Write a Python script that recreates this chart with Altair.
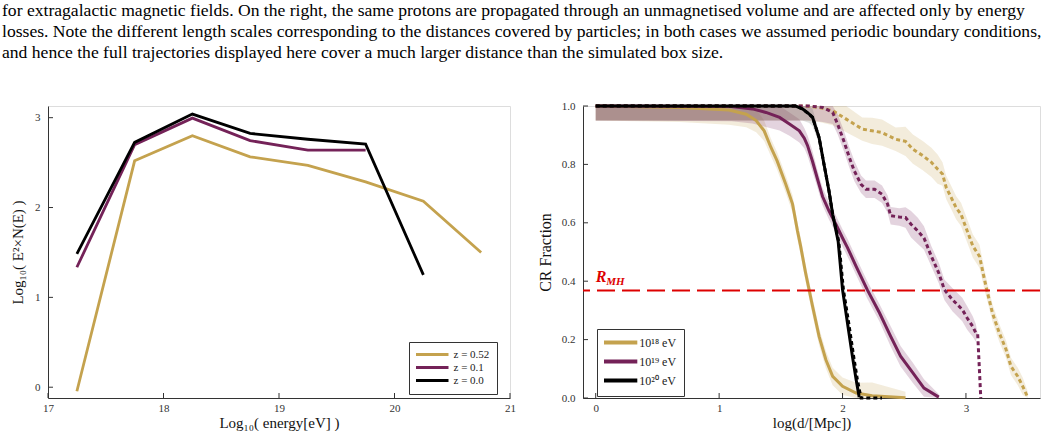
import altair as alt
import pandas as pd

CAPTION = [
    "for extragalactic magnetic fields. On the right, the same protons are propagated through an unmagnetised volume and are affected only by energy",
    "losses. Note the different length scales corresponding to the distances covered by particles; in both cases we assumed periodic boundary conditions,",
    "and hence the full trajectories displayed here cover a much larger distance than the simulated box size.",
]

# ---- left panel: E^2 N(E) spectra at three redshifts ----
LOG_E = [17.25, 17.75, 18.25, 18.75, 19.25, 19.75, 20.25, 20.75]
SPEC_Z052 = [-0.045, 2.52, 2.80, 2.565, 2.47, 2.285, 2.07, 1.50]
SPEC_Z01 = [1.335, 2.70, 2.995, 2.745, 2.64, 2.64]
SPEC_Z00 = [1.485, 2.725, 3.04, 2.825, 2.76, 2.705, 1.25]
Z_LABELS = ["z = 0.52", "z = 0.1", "z = 0.0"]
L_XTICKS = [17, 18, 19, 20, 21]
L_YTICKS = [0, 1, 2, 3]

# ---- right panel: surviving CR fraction vs travelled distance ----
E_LABELS = ["10¹⁸ eV", "10¹⁹ eV", "10²⁰ eV"]
BAND_KEYS = ["b18", "b19", "b20"]

# 1e18 eV, magnetised (solid)
X_18S = [0.0, 0.68, 1.08, 1.22, 1.30, 1.365, 1.42, 1.47, 1.54, 1.595, 1.635, 1.66, 1.70,
         1.757, 1.81, 1.865, 1.92, 2.0, 2.11, 2.24, 2.51]
Y_18S = [1.0, 0.995, 0.986, 0.972, 0.950, 0.915, 0.858, 0.812, 0.732, 0.664, 0.572, 0.521, 0.43,
         0.314, 0.211, 0.131, 0.074, 0.040, 0.017, 0.008, 0.001]
W_18S = [0.05, 0.05, 0.05, 0.045, 0.04, 0.035, 0.03, 0.03, 0.03, 0.03, 0.03, 0.03, 0.03,
         0.03, 0.03, 0.03, 0.03, 0.03, 0.035, 0.045, 0.02]

# 1e19 eV, magnetised (solid)
X_19S = [0.0, 1.1, 1.27, 1.38, 1.49, 1.57, 1.65, 1.69, 1.716, 1.757, 1.797, 1.838, 1.89, 1.946,
         2.0, 2.04, 2.11, 2.20, 2.30, 2.39, 2.47, 2.57, 2.66, 2.78]
Y_19S = [1.0, 0.998, 0.99, 0.978, 0.961, 0.938, 0.915, 0.89, 0.865, 0.81, 0.75, 0.69, 0.641, 0.595,
         0.548, 0.515, 0.451, 0.371, 0.291, 0.211, 0.143, 0.086, 0.034, 0.003]
W_19S = [0.05, 0.05, 0.05, 0.05, 0.045, 0.04, 0.04, 0.035, 0.035, 0.035, 0.03, 0.03, 0.03, 0.03,
         0.03, 0.03, 0.03, 0.03, 0.03, 0.035, 0.035, 0.035, 0.03, 0.01]

# 1e20 eV, magnetised (solid)
X_20S = [0.0, 1.62, 1.675, 1.73, 1.757, 1.81, 1.85, 1.89, 1.92, 1.965, 2.0, 2.04, 2.08, 2.11, 2.135]
Y_20S = [1.0, 1.0, 0.99, 0.972, 0.961, 0.892, 0.80, 0.71, 0.629, 0.535, 0.371, 0.257, 0.143, 0.063, 0.003]
W_20S = [0.05, 0.05, 0.04, 0.03, 0.03, 0.02, 0.015, 0.01, 0.01, 0.01, 0.01, 0.01, 0.01, 0.01, 0.0]

# 1e18 eV, unmagnetised (dotted)
X_18D = [0.0, 1.7, 1.81, 1.92, 2.03, 2.16, 2.24, 2.32, 2.43, 2.51, 2.57, 2.65, 2.72, 2.77, 2.81,
         2.84, 2.88, 2.92, 2.96, 2.99, 3.03, 3.055, 3.11, 3.15, 3.175, 3.215, 3.27, 3.325, 3.365,
         3.42, 3.46, 3.50]
Y_18D = [1.0, 1.0, 0.995, 0.984, 0.955, 0.921, 0.915, 0.909, 0.886, 0.879, 0.852, 0.83, 0.807, 0.784, 0.767,
         0.721, 0.687, 0.652, 0.629, 0.595, 0.55, 0.521, 0.485, 0.406, 0.36, 0.291, 0.223, 0.166, 0.108,
         0.074, 0.040, 0.003]
W_18D = [0.05, 0.05, 0.05, 0.05, 0.045, 0.04, 0.045, 0.045, 0.04, 0.05, 0.05, 0.05, 0.05, 0.05, 0.04,
         0.04, 0.04, 0.04, 0.04, 0.04, 0.04, 0.04, 0.04, 0.035, 0.03, 0.03, 0.03, 0.03, 0.03,
         0.03, 0.03, 0.02]

# 1e19 eV, unmagnetised (dotted)
X_19D = [0.0, 1.65, 1.73, 1.84, 1.92, 1.96, 2.01, 2.055, 2.095, 2.15, 2.19, 2.26, 2.32, 2.365, 2.39,
         2.46, 2.51, 2.555, 2.61, 2.66, 2.72, 2.78, 2.825, 2.89, 2.97, 3.01, 3.055, 3.08, 3.095, 3.12]
Y_19D = [1.0, 1.0, 1.0, 0.995, 0.978, 0.938, 0.881, 0.824, 0.778, 0.732, 0.715, 0.715, 0.698, 0.664, 0.624,
         0.62, 0.618, 0.595, 0.572, 0.548, 0.485, 0.428, 0.371, 0.337, 0.303, 0.274, 0.245, 0.223, 0.22, 0.0]
W_19D = [0.05, 0.05, 0.05, 0.05, 0.04, 0.035, 0.035, 0.035, 0.035, 0.03, 0.03, 0.03, 0.03, 0.03, 0.03,
         0.03, 0.035, 0.045, 0.045, 0.04, 0.035, 0.035, 0.035, 0.04, 0.04, 0.04, 0.035, 0.03, 0.0, 0.0]

# 1e20 eV, unmagnetised (dotted) -- no visible spread
X_20D = [0.0, 1.62, 1.675, 1.73, 1.757, 1.81, 1.85, 1.89, 1.92, 1.97, 2.007, 2.05, 2.09, 2.12, 2.15, 2.32]
Y_20D = [1.0, 1.0, 0.99, 0.972, 0.961, 0.892, 0.80, 0.71, 0.629, 0.535, 0.371, 0.257, 0.143, 0.063, 0.0, 0.0]
W_20D = [0.0] * len(X_20D)

R_MH = 0.368
R_XTICKS = [0, 1, 2, 3]
R_YTICKS = [0.0, 0.2, 0.4, 0.6, 0.8, 1.0]

GOLD = "#C4A24E"
PURPLE = "#742258"
BLACK = "#000000"
BAND_GREY = "#606060"
RED = "#DD0000"
SERIF = "Liberation Serif"
AXIS_COLOR = "#333333"

L_W, L_H = 462, 292
R_W, R_H = 457, 292
TICK_LEN = 5
DOT = [4, 3]


def axis(title, values, fmt, pad, tpad, title_size=15):
    return alt.Axis(title=title, values=values, format=fmt, ticks=False, tickSize=0, grid=False,
                    domainColor=AXIS_COLOR, domainWidth=1, labelFont=SERIF, labelFontSize=11,
                    labelColor=AXIS_COLOR, labelPadding=pad, titleFont=SERIF, titleFontSize=title_size,
                    titleFontWeight="normal", titleColor="#111111", titlePadding=tpad, labelFlush=False)


def line_legend(x, y, size, path, width, font_size, offset, row_pad, pad):
    # legend of short horizontal strokes drawn as a custom symbol path
    return alt.Legend(title=None, orient="none", legendX=x, legendY=y, symbolType=path,
                      symbolSize=size, symbolStrokeWidth=width, symbolDash=[1, 0],
                      symbolFillColor="transparent", labelFont=SERIF, labelFontSize=font_size,
                      labelColor="#222222", labelOffset=offset, rowPadding=row_pad, padding=pad,
                      strokeColor="#333333", fillColor="white", cornerRadius=0)


# ---------------- left panel ----------------
XS_L = alt.Scale(domain=[17, 21], nice=False, zero=False)
YS_L = alt.Scale(domain=[-0.12, 3.13], nice=False, zero=False)
AX_XL = axis("Log₁₀( energy[eV] )", L_XTICKS, "d", 4, 2)
AX_YL = axis("Log₁₀( E²×N(E) )", L_YTICKS, "d", 8, 9)
STROKE_L = alt.Stroke(
    "z:N",
    scale=alt.Scale(domain=Z_LABELS, range=[GOLD, PURPLE, BLACK]),
    legend=line_legend(361, 236, 49, "M-1.571,0H7.714", 3, 11, 26.5, 0, 7),
)


def spec_line(ys, label):
    df = pd.DataFrame({"e": LOG_E[:len(ys)], "v": ys, "z": label})
    return alt.Chart(df).mark_line(strokeWidth=2.8).encode(
        x=alt.X("e:Q", scale=XS_L, axis=AX_XL),
        y=alt.Y("v:Q", scale=YS_L, axis=AX_YL),
        stroke=STROKE_L,
    )


ticks_xl = alt.Chart(pd.DataFrame({"e": L_XTICKS})).mark_rule(color=AXIS_COLOR).encode(
    x=alt.X("e:Q", scale=XS_L, axis=AX_XL), y=alt.value(L_H), y2=alt.value(L_H - TICK_LEN))
ticks_yl = alt.Chart(pd.DataFrame({"v": L_YTICKS})).mark_rule(color=AXIS_COLOR).encode(
    y=alt.Y("v:Q", scale=YS_L, axis=AX_YL), x=alt.value(0), x2=alt.value(TICK_LEN))

left = alt.layer(
    spec_line(SPEC_Z052, Z_LABELS[0]),
    spec_line(SPEC_Z01, Z_LABELS[1]),
    spec_line(SPEC_Z00, Z_LABELS[2]),
    ticks_xl, ticks_yl,
).properties(width=L_W, height=L_H)

# ---------------- right panel ----------------
XS_R = alt.Scale(domain=[-0.103, 3.6], nice=False, zero=False)
YS_R = alt.Scale(domain=[0, 1], nice=False, zero=False)
AX_XR = axis("log(d/[Mpc])", R_XTICKS, "d", 4, 2)
AX_YR = axis("CR Fraction", R_YTICKS, ".1f", 8, 8, title_size=16)
STROKE_R = alt.Stroke(
    "energy:N", scale=alt.Scale(domain=E_LABELS, range=[GOLD, PURPLE, BLACK]),
    legend=line_legend(14, 223, 81, "M-1.444,0H5.956", 4, 12, 22.3, 2, 7),
)

CURVES = [
    ("18s", 0, X_18S, Y_18S, W_18S, None),
    ("19s", 1, X_19S, Y_19S, W_19S, None),
    ("18d", 0, X_18D, Y_18D, W_18D, DOT),
    ("19d", 1, X_19D, Y_19D, W_19D, DOT),
    ("20d", 2, X_20D, Y_20D, W_20D, DOT),
    ("20s", 2, X_20S, Y_20S, W_20S, None),
]

frames = []
for name, k, xs, ys, ws, _ in CURVES:
    frames.append(pd.DataFrame({
        "curve": name, "energy": E_LABELS[k], "band": BAND_KEYS[k], "d": xs, "f": ys,
        "lo": [max(0.0, y - w) for y, w in zip(ys, ws)],
        "hi": [min(1.0, y + w) for y, w in zip(ys, ws)],
    }))
curves_df = pd.concat(frames, ignore_index=True)

X_R = alt.X("d:Q", scale=XS_R, axis=AX_XR)

bands = alt.Chart(curves_df).mark_area(fillOpacity=0.2, interpolate="linear").encode(
    x=X_R,
    y=alt.Y("lo:Q", scale=YS_R, axis=AX_YR),
    y2="hi:Q",
    fill=alt.Fill("band:N", scale=alt.Scale(domain=BAND_KEYS, range=[GOLD, PURPLE, BAND_GREY]),
                  legend=None),
    detail="curve:N",
)

lines = []
for name, k, xs, ys, ws, dash in CURVES:
    mk = {"strokeWidth": 3}
    if dash:
        mk["strokeDash"] = dash
    lines.append(
        alt.Chart(curves_df[curves_df["curve"] == name]).mark_line(**mk).encode(
            x=X_R, y=alt.Y("f:Q", scale=YS_R, axis=AX_YR), stroke=STROKE_R, order="d:Q")
    )

rmh_df = pd.DataFrame({"d": [0.0], "f": [R_MH]})
rmh_rule = alt.Chart(rmh_df).mark_rule(color=RED, strokeWidth=2, strokeDash=[18, 7]).encode(
    y=alt.Y("f:Q", scale=YS_R, axis=AX_YR))
rmh_r = alt.Chart(rmh_df).mark_text(text="R", font=SERIF, fontSize=16, fontStyle="italic",
                                     fontWeight="bold", color=RED, align="left",
                                     baseline="alphabetic", dy=-8.5).encode(
    x=X_R, y=alt.Y("f:Q", scale=YS_R, axis=AX_YR))
rmh_sub = alt.Chart(rmh_df).mark_text(text="MH", font=SERIF, fontSize=11, fontStyle="italic",
                                       fontWeight="bold", color=RED, align="left",
                                       baseline="alphabetic", dx=10.5, dy=-5.5).encode(
    x=X_R, y=alt.Y("f:Q", scale=YS_R, axis=AX_YR))

ticks_xr = alt.Chart(pd.DataFrame({"d": R_XTICKS})).mark_rule(color=AXIS_COLOR).encode(
    x=X_R, y=alt.value(R_H), y2=alt.value(R_H - TICK_LEN))
ticks_yr = alt.Chart(pd.DataFrame({"f": R_YTICKS})).mark_rule(color=AXIS_COLOR).encode(
    y=alt.Y("f:Q", scale=YS_R, axis=AX_YR), x=alt.value(0), x2=alt.value(TICK_LEN))

right = alt.layer(bands, *lines, rmh_rule, rmh_r, rmh_sub, ticks_xr, ticks_yr).properties(
    width=R_W, height=R_H)

chart = alt.hconcat(left, right, spacing=20).resolve_scale(
    stroke="independent", fill="independent"
).resolve_legend(stroke="independent").properties(
    title=alt.TitleParams(text=CAPTION, anchor="start", frame="bounds", font=SERIF, fontSize=17.6,
                          fontWeight="normal", color="#000000", lineHeight=21, offset=38, dx=-8),
    padding={"left": 2, "top": 1, "right": 0, "bottom": 0},
).configure_view(stroke=None).configure(background="white")

chart.save("out.html", embed_options={"renderer": "svg", "actions": False})
